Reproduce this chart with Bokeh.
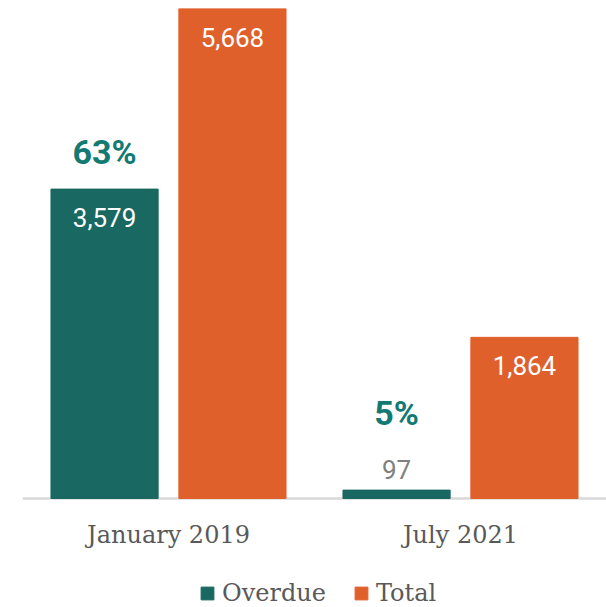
from bokeh.plotting import figure
from bokeh.models import ColumnDataSource, FactorRange, Range1d, Legend, LegendItem, LabelSet, Span
from bokeh.transform import dodge
from bokeh.core.properties import value
from bokeh.embed import file_html
from bokeh.resources import INLINE

categories = ["January 2019", "July 2021"]
overdue = [3579, 97]
total = [5668, 1864]
percent_labels = ["63%", "5%"]
series_names = ["Overdue", "Total"]

TEAL = "#196861"
ORANGE = "#e0602b"
PCT_COLOR = "#127a72"
AXIS_TEXT = "#595959"
SERIF = value("DejaVu Serif")
SANS = value("Roboto")

W_PX, H_PX = 606, 607
TOP_PX = 8          # frame top
BASE_PX = 498       # pixel row of the zero line
ymax = max(total)
ystart = -ymax * (H_PX - BASE_PX) / (BASE_PX - TOP_PX)

p = figure(x_range=FactorRange(*categories, range_padding=0),
           y_range=Range1d(ystart, ymax),
           width=W_PX, height=H_PX, output_backend="svg", toolbar_location=None,
           min_border_left=22, min_border_right=0, min_border_top=TOP_PX, min_border_bottom=0)
p.xaxis.visible = False
p.yaxis.visible = False
p.xgrid.grid_line_color = None
p.ygrid.grid_line_color = None
p.outline_line_color = None

# baseline (category axis line)
p.add_layout(Span(location=0, dimension="width", line_color="#d9d9d9", line_width=2.5,
                  level="underlay"))

OFF = 0.219
W = 0.367
src = ColumnDataSource(dict(cat=categories, overdue=overdue, total=total))
r1 = p.vbar(x=dodge("cat", -OFF, range=p.x_range), top="overdue", width=W, source=src,
            fill_color=TEAL, line_color=TEAL)
r2 = p.vbar(x=dodge("cat", OFF, range=p.x_range), top="total", width=W, source=src,
            fill_color=ORANGE, line_color=ORANGE)

# category labels under the baseline
cat_src = ColumnDataSource(dict(cat=categories, y=[0] * len(categories)))
p.add_layout(LabelSet(x="cat", y="y", text="cat", source=cat_src, y_offset=-22,
                      text_align="center", text_baseline="top", text_color=AXIS_TEXT,
                      text_font=SERIF, text_font_size="24px"))

# value labels: inside the bar if tall enough, otherwise just above it
thresh = 0.05 * ymax
for vals, off in ((overdue, -OFF), (total, OFF)):
    ins = [i for i, v in enumerate(vals) if v >= thresh]
    outs = [i for i, v in enumerate(vals) if v < thresh]
    if ins:
        s = ColumnDataSource(dict(cat=[categories[i] for i in ins], y=[vals[i] for i in ins],
                                  t=[f"{vals[i]:,}" for i in ins]))
        p.add_layout(LabelSet(x=dodge("cat", off, range=p.x_range), y="y", text="t", source=s,
                              y_offset=-19, text_align="center", text_baseline="top",
                              text_color="white", text_font=SANS, text_font_size="26px"))
    if outs:
        s = ColumnDataSource(dict(cat=[categories[i] for i in outs], y=[vals[i] for i in outs],
                                  t=[f"{vals[i]:,}" for i in outs]))
        p.add_layout(LabelSet(x=dodge("cat", off, range=p.x_range), y="y", text="t", source=s,
                              y_offset=11, text_align="center", text_baseline="alphabetic",
                              text_color="#808080", text_font=SANS, text_font_size="26px"))

# percentage labels above the overdue bars
pct_off = [25 if v >= thresh else 65 for v in overdue]
for i in range(len(categories)):
    s = ColumnDataSource(dict(cat=[categories[i]], y=[overdue[i]], t=[percent_labels[i]]))
    p.add_layout(LabelSet(x=dodge("cat", -OFF, range=p.x_range), y="y", text="t", source=s,
                          y_offset=pct_off[i], text_align="center", text_baseline="alphabetic",
                          text_color=PCT_COLOR, text_font=SANS, text_font_style="bold",
                          text_font_size="34px"))

legend = Legend(items=[LegendItem(label=series_names[0], renderers=[r1]),
                       LegendItem(label=series_names[1], renderers=[r2])],
                orientation="horizontal", location=(177, 0))
legend.border_line_color = None
legend.background_fill_alpha = 0
legend.glyph_width = 16
legend.glyph_height = 16
legend.label_standoff = 7
legend.spacing = 27
legend.padding = 0
legend.margin = 0
legend.label_text_font = "DejaVu Serif"
legend.label_text_font_size = "24px"
legend.label_text_color = AXIS_TEXT
p.add_layout(legend, "center")

open("out.html", "w").write(file_html(p, INLINE))
